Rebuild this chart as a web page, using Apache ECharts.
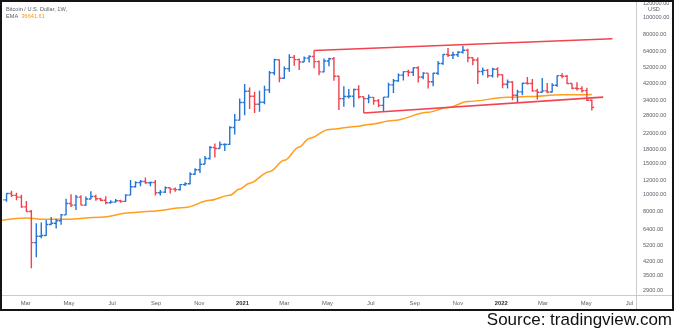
<!DOCTYPE html>
<html><head><meta charset="utf-8">
<script src="https://cdn.jsdelivr.net/npm/echarts@6/dist/echarts.min.js"></script>
<style>html,body{margin:0;padding:0;background:#fff}#c{width:675px;height:331px}</style>
</head><body><div id="c"></div>
<script>
// ---- data (weekly bars, BTC/USD 1W) ----
const firstWeek = '2020-01-27';
const opens = [8600,9340,10150,9900,9670,8530,8030,5360,5830,5880,6780,6900,7120,7690,8900,8720,9670,8720,9450,9750,9470,9300,9000,9070,9240,9160,9930,11070,11680,11850,11660,11700,10250,10330,10920,10740,10670,11380,11500,13030,13800,14830,15960,18400,18180,19150,19170,23860,26270,
33000,38200,35800,32280,33100,38870,48600,57500,45200,51200,59300,57600,55800,58700,60000,56100,49100,56600,58200,46400,34700,35700,35800,39100,35600,34700,35300,33800,31800,35400,41500,43800,47100,49300,48900,51800,46000,48300,43200,48200,54700,61500,60900,61300,63300,65000,59000,57300,49400,50100,46700,50800,
47300,41800,43100,36300,37900,42400,42200,38400,37700,38400,37800,41300,46800,46400,42200,39700,39500,38500,34000];
const highs = [9560,10160,10500,10250,9970,9190,8180,6900,6970,7200,7470,7300,7780,9460,10050,9960,9900,9750,10430,9990,9600,9780,9300,9450,9340,10050,12100,11900,12090,12480,11800,12080,10600,11100,10930,10950,11480,11730,13350,14090,15970,16480,18800,19400,19920,19420,24300,28400,34800,
42000,40100,37900,38500,41000,49700,58300,57600,52600,61800,61200,58500,60000,61000,64800,57000,58400,59000,59500,46700,40800,39300,39500,41300,35700,36600,35400,34600,35500,42600,44800,48100,49400,50500,51900,52900,48900,48300,48500,56500,62000,67000,63700,64200,69000,66300,59300,59200,51900,51000,51800,52100,
47500,44500,43500,38900,42600,45900,44800,39500,45400,42500,42400,46900,48200,47200,42400,42900,40800,40000,34200];
const lows = [8500,9120,9700,9300,8420,8010,3850,4440,5680,5860,6740,6450,6770,7670,8520,8200,8700,8640,9400,9220,9170,8830,8900,9050,9000,9120,9920,10950,11130,11500,11130,9880,9880,10200,10150,10380,10530,11190,11420,12920,13240,14820,15780,16200,18100,17600,19000,21800,26100,
28000,30300,28800,29300,32300,37400,47000,43000,44900,49200,53200,50400,55800,55400,51500,47000,48800,52900,43800,30000,31200,34800,31000,34800,28800,32700,32100,31000,29300,35300,37400,43200,43900,46300,46500,42800,44700,39600,40800,47100,53800,59600,58000,59500,62300,55600,53500,42000,47000,45500,45600,45700,
39700,39600,34000,32900,36300,41700,38000,34300,37600,37200,37600,40500,45200,41900,39200,38600,37600,33700,29800];
const closes = [9340,10150,9900,9670,8530,8030,5360,5830,5880,6780,6900,7120,7690,8900,8720,9670,8720,9450,9750,9470,9300,9000,9070,9240,9160,9930,11070,11680,11850,11660,11700,10250,10330,10920,10740,10670,11380,11500,13030,13800,14830,15960,18400,18180,19150,19170,23860,26270,33000,
38200,35800,32280,33100,38870,48600,57500,45200,51200,59300,57600,55800,58700,60000,56100,49100,56600,58200,46400,34700,35700,35800,39100,35600,34700,35300,33800,31800,35400,41500,43800,47100,49300,48900,51800,46000,48300,43200,48200,54700,61500,60900,61300,63300,65000,59000,57300,49400,50100,46700,50800,47300,
41800,43100,36300,37900,42400,42200,38400,37700,38400,37800,41300,46800,46400,42200,39700,39500,38500,34000,31000];

const emaDates = ['2020-01-27','2020-03-02','2020-03-23','2020-04-27','2020-06-15','2020-07-27','2020-08-24','2020-10-12','2020-11-16','2020-12-14','2020-12-28','2021-01-11','2021-02-08','2021-03-01','2021-03-22','2021-04-05','2021-05-03','2021-06-14','2021-06-28','2021-08-02','2021-09-20','2021-10-18','2021-11-15','2022-01-10','2022-02-07','2022-03-28','2022-05-09'];
const emaValues = [7170,7390,7265,7265,7460,7900,8060,8450,9290,9910,10750,11600,13450,15590,18510,20720,23280,24290,24830,26150,29110,30940,33440,35340,35660,36460,36641.61];

const upperTrend = [['2021-04-12', 64800], ['2022-06-07', 75500]];
const lowerTrend = [['2021-06-21', 28800], ['2022-05-25', 35400]];

const priceTicks = [120000,100000,80000,64000,52000,42000,34000,28000,22000,18000,15000,12000,10000,8000,6400,5200,4200,3500,2900];
const timeTickDates = ['2020-03-01','2020-05-01','2020-07-01','2020-09-01','2020-11-01','2021-01-01','2021-03-01','2021-05-01','2021-07-01','2021-09-01','2021-11-01','2022-01-01','2022-03-01','2022-05-01','2022-07-01'];
const timeTickLabels = ['Mar','May','Jul','Sep','Nov','2021','Mar','May','Jul','Sep','Nov','2022','Mar','May','Jul'];

const xMin = '2020-01-29', xMax = '2022-07-11';
const yMin = 2701, yMax = 121900;

// ---- build ----
const DAY = 86400000;
const ts = s => { const [y,m,d] = s.split('-').map(Number); return Date.UTC(y, m-1, d); };
const t0 = ts(firstWeek);
const bars = opens.map((o, i) => [t0 + i * 7 * DAY, o, highs[i], lows[i], closes[i]]);
const emaData = emaDates.map((d, i) => [ts(d), emaValues[i]]);
const tickData = timeTickDates.map((d, i) => [ts(d), yMin, i]);
const upColor = '#2374d6', downColor = '#f0414c';
const textColor = '#5d606b';
const FONT = 'Liberation Sans, Arial, sans-serif';

function renderBar(params, api) {
  const t = api.value(0), o = api.value(1), h = api.value(2), l = api.value(3), c = api.value(4);
  const pH = api.coord([t, h]), pL = api.coord([t, l]);
  const yO = api.coord([t, o])[1], yC = api.coord([t, c])[1];
  const x = pH[0];
  const style = { stroke: c >= o ? upColor : downColor, lineWidth: 1.4 };
  return { type: 'group', children: [
    { type: 'line', shape: { x1: x, y1: pH[1], x2: x, y2: pL[1] }, style },
    { type: 'line', shape: { x1: x - 2.2, y1: yO, x2: x, y2: yO }, style },
    { type: 'line', shape: { x1: x, y1: yC, x2: x + 2.2, y2: yC }, style }
  ]};
}

function renderTimeLabel(params, api) {
  const x = api.coord([api.value(0), api.value(1)])[0];
  const lab = timeTickLabels[api.value(2)];
  const isYear = /^\d{4}$/.test(lab);
  const cs = params.coordSys;
  return { type: 'text', x: x, y: cs.y + cs.height + 7.5,
    style: { text: lab, fill: isYear ? '#2a2e39' : textColor,
      font: (isYear ? 'bold ' : '') + '5.8px ' + FONT, align: 'center', verticalAlign: 'middle' } };
}

const chart = echarts.init(document.getElementById('c'), null, { renderer: 'canvas' });
chart.setOption({
  animation: false,
  backgroundColor: '#fff',
  grid: { left: 3, right: 38.5, top: 1, bottom: 35.5 },
  xAxis: {
    type: 'time', min: ts(xMin), max: ts(xMax),
    axisLine: { show: true, lineStyle: { color: '#c9cbd1', width: 1 } },
    axisTick: { show: false },
    splitLine: { show: false },
    axisLabel: { show: false }
  },
  yAxis: {
    type: 'log', logBase: 10, min: yMin, max: yMax, position: 'right',
    axisLine: { show: true, lineStyle: { color: '#c9cbd1', width: 1 } },
    axisTick: { show: false },
    splitLine: { show: false },
    axisLabel: {
      customValues: priceTicks,
      margin: 6.5,
      color: textColor, fontSize: 5.6, fontFamily: FONT,
      formatter: v => Number(v).toFixed(2)
    }
  },
  series: [
    { type: 'line', name: 'EMA', data: emaData, smooth: 0.35, smoothMonotone: 'x', showSymbol: false,
      lineStyle: { color: '#ff9f1c', width: 1.5 }, z: 2 },
    { type: 'custom', name: 'BTCUSD', data: bars, renderItem: renderBar, clip: true,
      encode: { x: 0, y: [1, 2, 3, 4] }, z: 3 },
    { type: 'line', name: 'upper', data: upperTrend.map(p => [ts(p[0]), p[1]]), showSymbol: false,
      lineStyle: { color: '#f2434f', width: 1.6 }, z: 4 },
    { type: 'line', name: 'lower', data: lowerTrend.map(p => [ts(p[0]), p[1]]), showSymbol: false,
      lineStyle: { color: '#f2434f', width: 1.6 }, z: 4 },
    { type: 'custom', name: 'timeLabels', data: tickData, renderItem: renderTimeLabel, clip: false,
      silent: true, encode: { x: 0, y: 1 }, z: 5 }
  ],
  graphic: [
    { type: 'line', shape: { x1: 1, y1: 295.5, x2: 673, y2: 295.5 }, style: { stroke: '#c9cbd1', lineWidth: 1 }, z: 10 },
    { type: 'line', shape: { x1: 636.5, y1: 1, x2: 636.5, y2: 310 }, style: { stroke: '#c9cbd1', lineWidth: 1 }, z: 10 },
    { type: 'text', x: 654, y: 9.5, style: { text: 'USD', fill: textColor, font: '5.6px ' + FONT, align: 'center', verticalAlign: 'middle' }, z: 10 },
    { type: 'text', x: 6, y: 9.3, style: { text: 'Bitcoin / U.S. Dollar, 1W,', fill: textColor, font: '5.6px ' + FONT, verticalAlign: 'middle' }, z: 10 },
    { type: 'text', x: 6, y: 16.8, style: {
        text: '{a|EMA} {b|' + emaValues[emaValues.length - 1].toFixed(2) + '}', verticalAlign: 'middle',
        rich: { a: { fill: textColor, font: '5.6px ' + FONT }, b: { fill: '#ff9800', font: '5.6px ' + FONT } } }, z: 10 },
    { type: 'rect', shape: { x: 1, y: 1, width: 672, height: 309 }, style: { fill: 'none', stroke: '#141414', lineWidth: 2 }, z: 20 },
    { type: 'text', x: 672, y: 320.5, style: { text: 'Source: tradingview.com', fill: '#111', font: '17px ' + FONT, align: 'right', verticalAlign: 'middle' }, z: 20 }
  ]
});
</script>
</body></html>
